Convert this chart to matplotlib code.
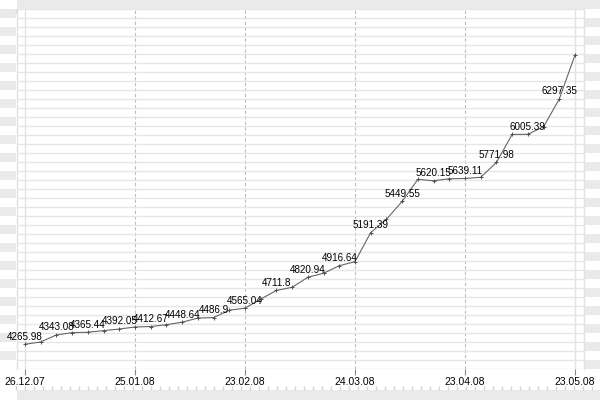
import numpy as np
import matplotlib
matplotlib.use("Agg")
import matplotlib.pyplot as plt
from matplotlib.patches import Rectangle

plt.rcParams['font.family'] = ['Liberation Sans', 'DejaVu Sans']

# weekly-ish closing values, every second one is labelled
values = [4265.98, 4285, 4343.08, 4362, 4365.44, 4379, 4392.05, 4409, 4412.67,
          4428, 4448.64, 4483, 4486.9, 4548, 4565.04, 4640, 4711.8, 4738,
          4820.94, 4854, 4916.64, 4950, 5191.39, 5301, 5449.55, 5632, 5620.15,
          5637, 5639.11, 5649, 5771.98, 6004, 6005.39, 6068, 6297.35, 6662]
tick_pos = [0, 7, 14, 21, 28, 35]
tick_labels = ['26.12.07', '25.01.08', '23.02.08', '24.03.08', '23.04.08', '23.05.08']

idx = np.arange(len(values))
grey = '#eaeaea'

fig = plt.figure(figsize=(6, 4), dpi=100)

# background frame (pixel coords, y down)
bg = fig.add_axes([0, 0, 1, 1], zorder=0)
bg.set_xlim(0, 600)
bg.set_ylim(400, 0)
bg.axis('off')
bg.add_patch(Rectangle((16.5, 0), 583.5, 9, color=grey, lw=0))
bg.add_patch(Rectangle((16.5, 390), 583.5, 10, color=grey, lw=0))
for k in range(20):
    bg.add_patch(Rectangle((0, 9 + 18 * k), 16, 9, color=grey, lw=0))
    bg.add_patch(Rectangle((584, 18 + 18 * k), 16, 9, color=grey, lw=0))
xs = np.arange(16, 600, 9)
bg.vlines(xs[xs < 583], 9, 13, color='#d4d4d4', lw=1)
bg.vlines(xs, 386, 390, color='#d4d4d4', lw=1)

# main plot area
ax = fig.add_axes([16.5 / 600, 31 / 400, 567 / 600, 360 / 400], zorder=1)
ax.set_facecolor('white')
step = 550 / 35
ax.set_xlim(-8.5 / step, 35 + 8.5 / step)
ylo, yhi = 4061, 7043
ax.set_ylim(ylo, yhi)

ax.set_yticks(np.linspace(ylo, yhi, 41))
ax.tick_params(axis='y', length=0, labelleft=False)
ax.grid(axis='y', color='#e6e6e6', lw=1)
ax.set_axisbelow(True)

for s in ['top', 'bottom']:
    ax.spines[s].set_visible(False)
for s in ['left', 'right']:
    ax.spines[s].set_color('#e2e2e2')
    ax.spines[s].set_linewidth(1)

for p in tick_pos:
    if p in (0, 35):
        ax.axvline(p, color='#e2e2e2', lw=1, zorder=0.5)
    else:
        ax.axvline(p, color='#bdbdbd', lw=0.8, ls=(0, (3, 2)), zorder=0.5)

ax.set_xticks(tick_pos)
ax.set_xticklabels(tick_labels, fontsize=7.5)
ax.tick_params(axis='x', length=4.3, width=0.8, color='#888888', pad=1.2)

ax.plot(idx, values, color='#666666', lw=0.8, marker='+', ms=2.5,
        mec='#505050', mew=0.7, clip_on=False, zorder=3)

for i in range(0, len(values), 2):
    ax.annotate('{:g}'.format(values[i]), (idx[i], values[i]), xytext=(0, 3.3),
                textcoords='offset points', ha='center', va='baseline',
                fontsize=7.1, color='black', zorder=4)

fig.savefig('out.png', dpi=100)
